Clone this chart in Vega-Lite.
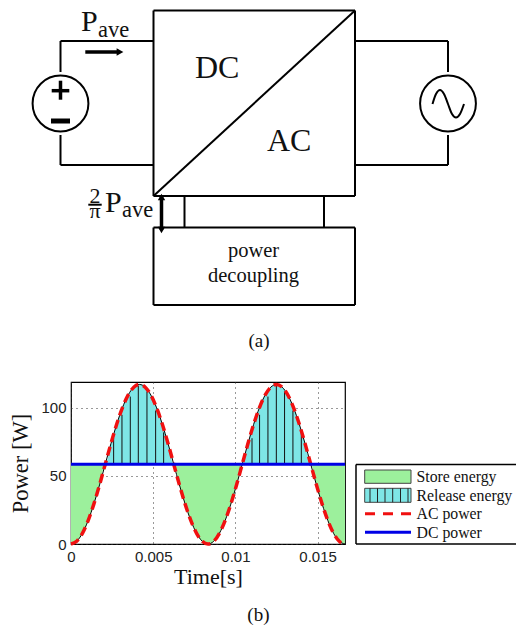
{"$schema":"https://vega.github.io/schema/vega-lite/v6.json","padding":{"left":9,"top":0,"right":0,"bottom":0},"spacing":0,"background":"white","config":{"view":{"stroke":null},"concat":{"spacing":0},"axis":{"labelFont":"Liberation Sans","titleFont":"Liberation Serif"},"axisY":{"titleFontSize":22.5,"titleFontWeight":"normal","titleColor":"#111","titlePadding":8,"labelFontSize":15,"labelColor":"#222","labelPadding":5,"domain":false,"ticks":false,"grid":true,"gridColor":"#333","gridDash":[1,4],"gridWidth":1,"gridOpacity":1}},
"datasets":{
"power":[{"t":0,"p":0,"store":0,"release":58.6,"dc":58.6},{"t":0.000347,"p":2,"store":2,"release":58.6,"dc":58.6},{"t":0.000694,"p":7.85,"store":7.85,"release":58.6,"dc":58.6},{"t":0.001042,"p":17.2,"store":17.2,"release":58.6,"dc":58.6},{"t":0.001389,"p":29.3,"store":29.3,"release":58.6,"dc":58.6},{"t":0.001736,"p":43.4,"store":43.4,"release":58.6,"dc":58.6},{"t":0.002083,"p":58.6,"store":58.6,"release":58.6,"dc":58.6},{"t":0.002431,"p":73.8,"store":58.6,"release":73.8,"dc":58.6},{"t":0.002778,"p":87.9,"store":58.6,"release":87.9,"dc":58.6},{"t":0.003125,"p":100,"store":58.6,"release":100,"dc":58.6},{"t":0.003472,"p":109.35,"store":58.6,"release":109.35,"dc":58.6},{"t":0.003819,"p":115.2,"store":58.6,"release":115.2,"dc":58.6},{"t":0.004167,"p":117.2,"store":58.6,"release":117.2,"dc":58.6},{"t":0.004514,"p":115.2,"store":58.6,"release":115.2,"dc":58.6},{"t":0.004861,"p":109.35,"store":58.6,"release":109.35,"dc":58.6},{"t":0.005208,"p":100,"store":58.6,"release":100,"dc":58.6},{"t":0.005556,"p":87.9,"store":58.6,"release":87.9,"dc":58.6},{"t":0.005903,"p":73.8,"store":58.6,"release":73.8,"dc":58.6},{"t":0.00625,"p":58.6,"store":58.6,"release":58.6,"dc":58.6},{"t":0.006597,"p":43.4,"store":43.4,"release":58.6,"dc":58.6},{"t":0.006944,"p":29.3,"store":29.3,"release":58.6,"dc":58.6},{"t":0.007292,"p":17.2,"store":17.2,"release":58.6,"dc":58.6},{"t":0.007639,"p":7.85,"store":7.85,"release":58.6,"dc":58.6},{"t":0.007986,"p":2,"store":2,"release":58.6,"dc":58.6},{"t":0.008333,"p":0,"store":0,"release":58.6,"dc":58.6},{"t":0.008681,"p":2,"store":2,"release":58.6,"dc":58.6},{"t":0.009028,"p":7.85,"store":7.85,"release":58.6,"dc":58.6},{"t":0.009375,"p":17.2,"store":17.2,"release":58.6,"dc":58.6},{"t":0.009722,"p":29.3,"store":29.3,"release":58.6,"dc":58.6},{"t":0.010069,"p":43.4,"store":43.4,"release":58.6,"dc":58.6},{"t":0.010417,"p":58.6,"store":58.6,"release":58.6,"dc":58.6},{"t":0.010764,"p":73.8,"store":58.6,"release":73.8,"dc":58.6},{"t":0.011111,"p":87.9,"store":58.6,"release":87.9,"dc":58.6},{"t":0.011458,"p":100,"store":58.6,"release":100,"dc":58.6},{"t":0.011806,"p":109.35,"store":58.6,"release":109.35,"dc":58.6},{"t":0.012153,"p":115.2,"store":58.6,"release":115.2,"dc":58.6},{"t":0.0125,"p":117.2,"store":58.6,"release":117.2,"dc":58.6},{"t":0.012847,"p":115.2,"store":58.6,"release":115.2,"dc":58.6},{"t":0.013194,"p":109.35,"store":58.6,"release":109.35,"dc":58.6},{"t":0.013542,"p":100,"store":58.6,"release":100,"dc":58.6},{"t":0.013889,"p":87.9,"store":58.6,"release":87.9,"dc":58.6},{"t":0.014236,"p":73.8,"store":58.6,"release":73.8,"dc":58.6},{"t":0.014583,"p":58.6,"store":58.6,"release":58.6,"dc":58.6},{"t":0.014931,"p":43.4,"store":43.4,"release":58.6,"dc":58.6},{"t":0.015278,"p":29.3,"store":29.3,"release":58.6,"dc":58.6},{"t":0.015625,"p":17.2,"store":17.2,"release":58.6,"dc":58.6},{"t":0.015972,"p":7.85,"store":7.85,"release":58.6,"dc":58.6},{"t":0.016319,"p":2,"store":2,"release":58.6,"dc":58.6},{"t":0.016667,"p":0,"store":0,"release":58.6,"dc":58.6}],
"hatch":[{"t":0.002593,"p":77.7,"dc":58.6},{"t":0.0031,"p":94.9,"dc":58.6},{"t":0.003607,"p":108.3,"dc":58.6},{"t":0.004094,"p":116.2,"dc":58.6},{"t":0.004621,"p":112,"dc":58.6},{"t":0.005148,"p":98,"dc":58.6},{"t":0.005635,"p":82,"dc":58.6},{"t":0.01101,"p":77.7,"dc":58.6},{"t":0.01147,"p":94.9,"dc":58.6},{"t":0.01198,"p":108.3,"dc":58.6},{"t":0.01249,"p":116.2,"dc":58.6},{"t":0.01299,"p":112,"dc":58.6},{"t":0.0135,"p":98,"dc":58.6},{"t":0.01401,"p":82,"dc":58.6}],
"wires":[{"x":153.5,"y":10.5,"x2":355,"y2":10.5},{"x":153.5,"y":196,"x2":355,"y2":196},{"x":153.5,"y":10.5,"x2":153.5,"y2":196},{"x":355,"y":10.5,"x2":355,"y2":196},{"x":153.5,"y":196,"x2":355,"y2":10.5},{"x":60.5,"y":41,"x2":153.5,"y2":41},{"x":60.5,"y":165,"x2":153.5,"y2":165},{"x":60.5,"y":41,"x2":60.5,"y2":72},{"x":60.5,"y":135,"x2":60.5,"y2":165},{"x":355,"y":41,"x2":448,"y2":41},{"x":355,"y":165,"x2":448,"y2":165},{"x":448,"y":41,"x2":448,"y2":72},{"x":448,"y":135,"x2":448,"y2":165},{"x":153.5,"y":227.5,"x2":355,"y2":227.5},{"x":153.5,"y":305,"x2":355,"y2":305},{"x":153.5,"y":227.5,"x2":153.5,"y2":305},{"x":355,"y":227.5,"x2":355,"y2":305},{"x":184.5,"y":196,"x2":184.5,"y2":227.5},{"x":324,"y":196,"x2":324,"y2":227.5},{"x":88.3,"y":204.7,"x2":101.7,"y2":204.7}],
"thick":[{"x":85.3,"y":52,"x2":118,"y2":52},{"x":161.5,"y":196,"x2":161.5,"y2":230},{"x":51.7,"y":90.7,"x2":69.3,"y2":90.7},{"x":60.5,"y":80.7,"x2":60.5,"y2":99.7}],
"sine":[{"x":432.5,"y":104},{"x":436,"y":94},{"x":440,"y":90},{"x":444,"y":94},{"x":448,"y":104},{"x":452,"y":114},{"x":456,"y":117.5},{"x":460,"y":114},{"x":464,"y":104}]
},
"vconcat":[
{"width":445,"height":376,
"encoding":{"x":{"field":"x","type":"quantitative","axis":null,"scale":{"domain":[71,516],"nice":false,"zero":false}},"y":{"field":"y","type":"quantitative","axis":null,"scale":{"domain":[376,0],"nice":false,"zero":false}}},
"layer":[
{"data":{"name":"wires"},"mark":{"type":"rule","color":"#000","strokeWidth":2},"encoding":{"x2":{"field":"x2"},"y2":{"field":"y2"}}},
{"data":{"name":"thick"},"mark":{"type":"rule","color":"#000","strokeWidth":3.5},"encoding":{"x2":{"field":"x2"},"y2":{"field":"y2"}}},
{"data":{"values":[{"x":51,"y":121,"x2":70,"y2":121}]},"mark":{"type":"rule","color":"#000","strokeWidth":5},"encoding":{"x2":{"field":"x2"},"y2":{"field":"y2"}}},
{"data":{"values":[{"x":60.5,"y":103.5},{"x":448,"y":103.5}]},"mark":{"type":"point","shape":"circle","size":3117,"filled":false,"stroke":"#000","strokeWidth":2,"opacity":1}},
{"data":{"name":"sine"},"mark":{"type":"line","color":"#000","strokeWidth":2,"interpolate":"cardinal"}},
{"data":{"values":[{"x":120,"y":52}]},"mark":{"type":"point","shape":"triangle-right","size":60,"filled":true,"color":"#000","opacity":1}},
{"data":{"values":[{"x":161.5,"y":197}]},"mark":{"type":"point","shape":"triangle-up","size":55,"filled":true,"color":"#000","opacity":1}},
{"data":{"values":[{"x":161.5,"y":230}]},"mark":{"type":"point","shape":"triangle-down","size":55,"filled":true,"color":"#000","opacity":1}},
{"data":{"values":[{"x":195,"y":78,"s":"DC"},{"x":267,"y":151,"s":"AC"}]},"mark":{"type":"text","font":"Liberation Serif","fontSize":32,"align":"left","baseline":"alphabetic","color":"#111"},"encoding":{"text":{"field":"s"}}},
{"data":{"values":[{"x":81,"y":31,"s":"P"},{"x":105,"y":211.7,"s":"P"}]},"mark":{"type":"text","font":"Liberation Serif","fontSize":30,"align":"left","baseline":"alphabetic","color":"#111"},"encoding":{"text":{"field":"s"}}},
{"data":{"values":[{"x":98,"y":36.7,"s":"ave"},{"x":122,"y":217,"s":"ave"}]},"mark":{"type":"text","font":"Liberation Serif","fontSize":22.5,"align":"left","baseline":"alphabetic","color":"#111"},"encoding":{"text":{"field":"s"}}},
{"data":{"values":[{"x":95,"y":202.7,"s":"2"},{"x":95,"y":218,"s":"π"}]},"mark":{"type":"text","font":"Liberation Serif","fontSize":22,"align":"center","baseline":"alphabetic","color":"#111"},"encoding":{"text":{"field":"s"}}},
{"data":{"values":[{"x":259,"y":346.7,"s":"(a)"}]},"mark":{"type":"text","font":"Liberation Serif","fontSize":19,"align":"center","baseline":"alphabetic","color":"#111"},"encoding":{"text":{"field":"s"}}},
{"data":{"values":[{"x":253.5,"y":257,"s":"power"},{"x":253.5,"y":282,"s":"decoupling"}]},"mark":{"type":"text","font":"Liberation Serif","fontSize":20.5,"align":"center","baseline":"alphabetic","color":"#111"},"encoding":{"text":{"field":"s"}}}
]},
{"spacing":0,"hconcat":[
{"width":274,"height":162,"view":{"stroke":"#000","strokeWidth":1.2},
"encoding":{"x":{"field":"t","type":"quantitative","scale":{"domain":[0,0.016667],"nice":false,"zero":false},"axis":{"values":[0,0.005,0.01,0.015],"format":"~g","title":"Time[s]","titleFontSize":22,"titleFontWeight":"normal","titleColor":"#111","titlePadding":2,"labelFontSize":15,"labelColor":"#222","labelPadding":5,"labelFlush":false,"domain":false,"ticks":false,"grid":true,"gridColor":"#333","gridDash":[1,4],"gridWidth":1,"gridOpacity":1}}},
"layer":[
{"data":{"name":"power"},"mark":{"type":"area","color":"#9cf09c","opacity":1,"interpolate":"monotone"},"encoding":{"y":{"field":"store","type":"quantitative","scale":{"domain":[0,119],"nice":false,"zero":false},"axis":{"values":[0,50,100],"title":"Power [W]"}},"y2":{"field":"dc"}}},
{"data":{"name":"power"},"mark":{"type":"area","color":"#7ee6e6","opacity":1,"interpolate":"monotone"},"encoding":{"y":{"field":"release","type":"quantitative","axis":{"values":[0,50,100],"title":"Power [W]"}},"y2":{"field":"dc"}}},
{"data":{"name":"hatch"},"mark":{"type":"rule","color":"#111","strokeWidth":1},"encoding":{"y":{"field":"p","type":"quantitative","axis":{"values":[0,50,100],"title":"Power [W]"}},"y2":{"field":"dc"}}},
{"data":{"name":"power"},"mark":{"type":"line","color":"#000","strokeWidth":1,"interpolate":"monotone"},"encoding":{"y":{"field":"p","type":"quantitative","axis":{"values":[0,50,100],"title":"Power [W]"}}}},
{"data":{"name":"power"},"mark":{"type":"line","color":"#f01010","strokeWidth":3.5,"strokeDash":[9,5],"interpolate":"monotone"},"encoding":{"y":{"field":"p","type":"quantitative","axis":{"values":[0,50,100],"title":"Power [W]"}}}},
{"data":{"name":"power"},"mark":{"type":"line","color":"#0000e6","strokeWidth":3},"encoding":{"y":{"field":"dc","type":"quantitative","axis":{"values":[0,50,100],"title":"Power [W]"}}}},
{"data":{"values":[{"t":0.0114,"p":-56.4,"s":"(b)"}]},"mark":{"type":"text","font":"Liberation Serif","fontSize":19,"align":"center","baseline":"alphabetic","color":"#111"},"encoding":{"y":{"field":"p","type":"quantitative","axis":{"values":[0,50,100],"title":"Power [W]"}},"text":{"field":"s"}}}
]},
{"width":163,"height":162,
"encoding":{"x":{"field":"x","type":"quantitative","axis":null,"scale":{"domain":[353,516],"nice":false,"zero":false}},"y":{"field":"y","type":"quantitative","axis":null,"scale":{"domain":[544,382],"nice":false,"zero":false}}},
"layer":[
{"data":{"values":[{"x":356,"y":464.5,"x2":516,"y2":464.5},{"x":356,"y":544,"x2":516,"y2":544},{"x":356,"y":464.5,"x2":356,"y2":544}]},"mark":{"type":"rule","color":"#000","strokeWidth":1.5},"encoding":{"x2":{"field":"x2"},"y2":{"field":"y2"}}},
{"data":{"values":[{"x":364.7,"y":470,"x2":411,"y2":483.3}]},"mark":{"type":"rect","color":"#9cf09c","stroke":"#444","strokeWidth":1},"encoding":{"x2":{"field":"x2"},"y2":{"field":"y2"}}},
{"data":{"values":[{"x":364.7,"y":488.3,"x2":411,"y2":502.3}]},"mark":{"type":"rect","color":"#7ee6e6","stroke":"#444","strokeWidth":1},"encoding":{"x2":{"field":"x2"},"y2":{"field":"y2"}}},
{"data":{"values":[{"x":370,"y":488.3,"y2":502.3},{"x":377.5,"y":488.3,"y2":502.3},{"x":385,"y":488.3,"y2":502.3},{"x":392.7,"y":488.3,"y2":502.3},{"x":400.5,"y":488.3,"y2":502.3},{"x":408,"y":488.3,"y2":502.3}]},"mark":{"type":"rule","color":"#222","strokeWidth":1},"encoding":{"y2":{"field":"y2"}}},
{"data":{"values":[{"x":365,"y":513.7},{"x":411,"y":513.7}]},"mark":{"type":"line","color":"#f01010","strokeWidth":3,"strokeDash":[10,8]}},
{"data":{"values":[{"x":365,"y":532.3},{"x":411,"y":532.3}]},"mark":{"type":"line","color":"#0000e6","strokeWidth":3}},
{"data":{"values":[{"x":416.5,"y":481.5,"s":"Store energy"},{"x":416.5,"y":500.5,"s":"Release energy"},{"x":416.5,"y":519.3,"s":"AC power"},{"x":416.5,"y":538.2,"s":"DC power"}]},"mark":{"type":"text","font":"Liberation Serif","fontSize":15.8,"align":"left","baseline":"alphabetic","color":"#111"},"encoding":{"text":{"field":"s"}}}
]}
]}
]}
